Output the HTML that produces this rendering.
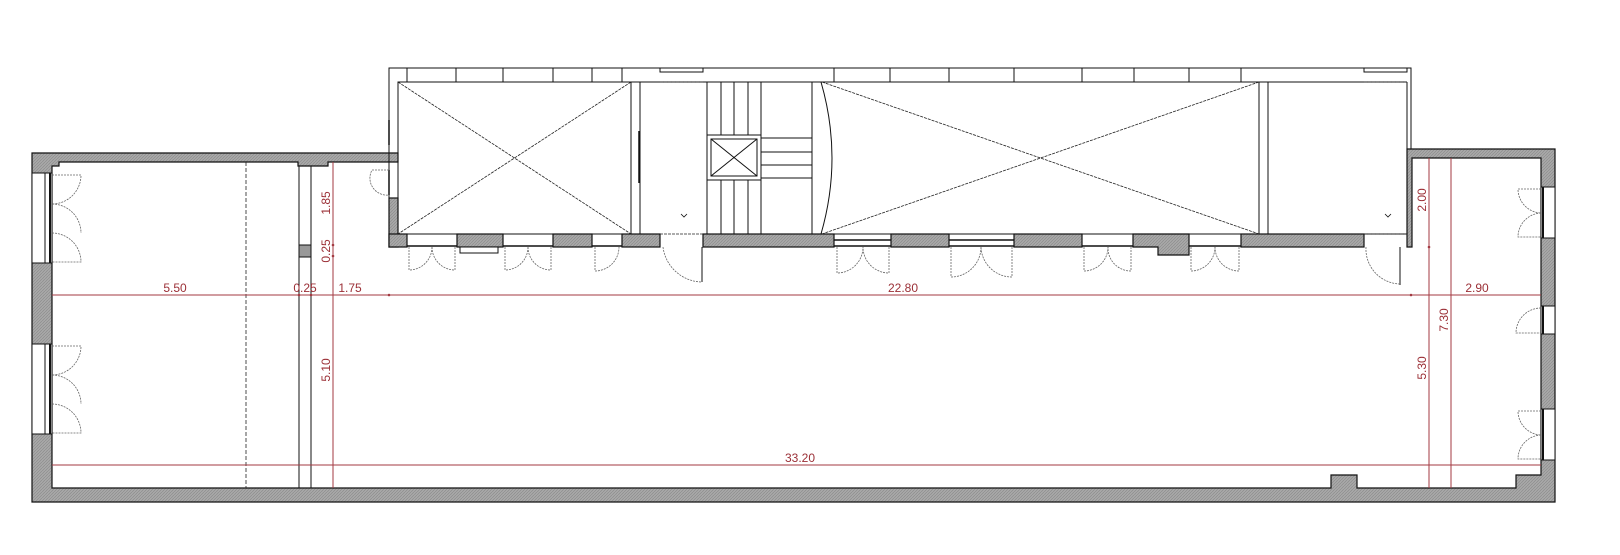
<!DOCTYPE html>
<html><head><meta charset="utf-8"><style>
html,body{margin:0;padding:0;background:#fff;}
svg{display:block;}
text{font-family:"Liberation Sans",sans-serif;font-size:12px;fill:#9b2f36;}
</style></head><body>
<svg width="1620" height="555" viewBox="0 0 1620 555" xmlns="http://www.w3.org/2000/svg">
<defs>
<pattern id="h" width="3" height="3" patternUnits="userSpaceOnUse">
<rect width="3" height="3" fill="#a8a8a8"/><path d="M0,3 L3,0" stroke="#888" stroke-width="0.6"/>
</pattern>
</defs>
<g fill="url(#h)" stroke="#111" stroke-width="1.2">
<path d="M32,153 H398 V162 H328 V166 H298 V162 H59 V166 H52 V488 H1331 V475 H1357 V488 H1516 V475 H1541 V158 H1412 V247 H1407 V149 H1555 V502 H32 Z"/>
<rect x="389" y="198" width="9" height="49"/>
<rect x="389" y="234" width="18" height="13"/>
<rect x="457" y="234" width="46" height="13"/>
<rect x="553" y="234" width="39" height="13"/>
<rect x="622" y="234" width="38" height="13"/>
<rect x="703" y="234" width="131" height="13"/>
<rect x="891" y="234" width="58" height="13"/>
<rect x="1014" y="234" width="68" height="13"/>
<path d="M1133,234 H1189 V255 H1158 V247 H1133 Z"/>
<rect x="1241" y="234" width="123" height="13"/>
</g>
<g fill="#fff" stroke="#111" stroke-width="1">
<rect x="32" y="173" width="20" height="90"/>
<rect x="32" y="344" width="20" height="90"/>
<rect x="1541" y="187" width="14" height="51"/>
<rect x="1541" y="306" width="14" height="28"/>
<rect x="1541" y="409" width="14" height="51"/>
</g>
<g stroke="#111" stroke-width="2">
<line x1="50" y1="173" x2="50" y2="263"/><line x1="50" y1="344" x2="50" y2="434"/>
<line x1="1543" y1="187" x2="1543" y2="238"/><line x1="1543" y1="306" x2="1543" y2="334"/><line x1="1543" y1="409" x2="1543" y2="460"/>
</g>
<g stroke="#111" stroke-width="1" fill="none">
<line x1="45" y1="173" x2="45" y2="263"/><line x1="45" y1="344" x2="45" y2="434"/>
<path d="M389,198 V68 H1411 V149"/>
<line x1="398" y1="82" x2="1407" y2="82"/>
<line x1="398" y1="82" x2="398" y2="198"/>
<line x1="1407" y1="82" x2="1407" y2="149"/>
<rect x="398" y="82" width="233" height="152"/>
<line x1="640" y1="82" x2="640" y2="234"/>
<line x1="707" y1="82" x2="707" y2="234"/>
<line x1="812" y1="82" x2="812" y2="234"/>
<line x1="721" y1="82" x2="721" y2="135"/><line x1="734" y1="82" x2="734" y2="135"/><line x1="748" y1="82" x2="748" y2="135"/>
<line x1="721" y1="180" x2="721" y2="234"/><line x1="734" y1="180" x2="734" y2="234"/><line x1="748" y1="180" x2="748" y2="234"/>
<line x1="761" y1="82" x2="761" y2="234"/>
<rect x="707" y="135" width="54" height="45"/>
<rect x="711" y="139" width="46" height="37"/>
<line x1="711" y1="139" x2="757" y2="176"/><line x1="757" y1="139" x2="711" y2="176"/>
<line x1="761" y1="138" x2="812" y2="138"/><line x1="761" y1="152" x2="812" y2="152"/><line x1="761" y1="165" x2="812" y2="165"/><line x1="761" y1="178" x2="812" y2="178"/>
<path d="M821,82 Q843,158 821,234"/>
<line x1="1259" y1="82" x2="1259" y2="234"/>
<line x1="1268" y1="82" x2="1268" y2="234"/>
<line x1="834" y1="234" x2="1407" y2="234"/>
<line x1="398" y1="234" x2="640" y2="234"/>
<rect x="407" y="68" width="49" height="14"/><rect x="503" y="68" width="50" height="14"/><rect x="592" y="68" width="30" height="14"/>
<rect x="660" y="68" width="43" height="4"/>
<rect x="834" y="68" width="56" height="14"/><rect x="949" y="68" width="65" height="14"/><rect x="1082" y="68" width="52" height="14"/><rect x="1189" y="68" width="52" height="14"/>
<rect x="1364" y="68" width="43" height="4"/>
<line x1="299" y1="166" x2="299" y2="488"/><line x1="311" y1="166" x2="311" y2="488"/>
<line x1="702" y1="247" x2="702" y2="282"/>
<line x1="1400" y1="247" x2="1400" y2="285"/>
</g>
<g stroke="#111" stroke-width="1.5">
<line x1="407" y1="246" x2="457" y2="246"/><line x1="503" y1="246" x2="553" y2="246"/><line x1="592" y1="246" x2="622" y2="246"/>
<line x1="834" y1="246" x2="891" y2="246"/><line x1="949" y1="246" x2="1014" y2="246"/><line x1="1082" y1="246" x2="1133" y2="246"/><line x1="1189" y1="246" x2="1241" y2="246"/>
<line x1="834" y1="240" x2="891" y2="240"/><line x1="949" y1="240" x2="1014" y2="240"/>
<line x1="389" y1="120" x2="389" y2="145"/><line x1="389" y1="170" x2="389" y2="195"/>
<line x1="639" y1="131" x2="639" y2="183"/>
</g>
<rect x="299" y="245" width="12" height="12" fill="#999" stroke="#111"/>
<rect x="460" y="247" width="38" height="6" fill="#fff" stroke="#111"/>
<g stroke="#222" stroke-width="0.8" stroke-dasharray="3,1" fill="none">
<line x1="398" y1="82" x2="631" y2="234"/><line x1="631" y1="82" x2="398" y2="234"/>
<line x1="822" y1="82" x2="1259" y2="234"/><line x1="1259" y1="82" x2="822" y2="234"/>
<line x1="246" y1="162" x2="246" y2="488" stroke-dasharray="4,2"/>
<line x1="660" y1="82" x2="703" y2="82"/><line x1="660" y1="234" x2="703" y2="234"/>
<line x1="1364" y1="82" x2="1407" y2="82"/><line x1="1364" y1="234" x2="1407" y2="234"/>
</g>
<g stroke="#666" stroke-width="0.8" stroke-dasharray="2,1" fill="none">
<path d="M52,175 H81 A29,29 0 0,1 52,204"/><path d="M52,204 A29,29 0 0,1 81,233"/><path d="M52,233 A29,29 0 0,1 81,262 H52"/>
<path d="M52,346 H81 A29,29 0 0,1 52,375"/><path d="M52,375 A29,29 0 0,1 81,404"/><path d="M52,404 A29,29 0 0,1 81,433 H52"/>
<path d="M1541,189 H1518 A24,24 0 0,0 1541,213"/><path d="M1541,213 A24,24 0 0,0 1518,237 H1541"/>
<path d="M1541,308 A25,25 0 0,0 1516,333 H1541"/>
<path d="M1541,411 H1518 A24,24 0 0,0 1541,435"/><path d="M1541,435 A24,24 0 0,0 1518,459 H1541"/>
<path d="M389,170 H372 A17,17 0 0,0 389,195"/>
<path d="M409,247 V270 A23,23 0 0,0 432,247"/><path d="M455,247 V270 A23,23 0 0,1 432,247"/>
<path d="M505,247 V270 A23,23 0 0,0 528,247"/><path d="M551,247 V270 A23,23 0 0,1 528,247"/>
<path d="M595,247 V271 A24,24 0 0,0 619,247"/>
<path d="M663,247 A40,40 0 0,0 702,282"/>
<path d="M837,247 V273 A26,26 0 0,0 863,247"/><path d="M889,247 V273 A26,26 0 0,1 863,247"/>
<path d="M951,247 V277 A30,30 0 0,0 981,247"/><path d="M1012,247 V277 A31,31 0 0,1 981,247"/>
<path d="M1084,247 V271 A24,24 0 0,0 1108,247"/><path d="M1131,247 V271 A23,23 0 0,1 1108,247"/>
<path d="M1191,247 V271 A24,24 0 0,0 1215,247"/><path d="M1239,247 V271 A24,24 0 0,1 1215,247"/>
<path d="M1366,247 A35,35 0 0,0 1400,284"/>
</g>
<path d="M681,214 l3,3 l3,-3 M1385,214 l3,3 l3,-3" stroke="#111" fill="none" stroke-width="0.8"/>
<g stroke="#a33a42" stroke-width="1">
<line x1="52" y1="295" x2="1541" y2="295"/>
<line x1="52" y1="465" x2="1541" y2="465"/>
<line x1="333" y1="162" x2="333" y2="488"/>
<line x1="1429" y1="158" x2="1429" y2="488"/>
<line x1="1451" y1="158" x2="1451" y2="488"/>
</g>
<g fill="#a33a42">
<circle cx="299" cy="295" r="1.3"/><circle cx="311" cy="295" r="1.3"/><circle cx="389" cy="295" r="1.3"/><circle cx="1411" cy="295" r="1.3"/>
<circle cx="333" cy="245" r="1.3"/><circle cx="333" cy="256" r="1.3"/><circle cx="1429" cy="247" r="1.3"/>
</g>
<text x="175" y="292" text-anchor="middle">5.50</text>
<text x="305" y="292" text-anchor="middle">0.25</text>
<text x="350" y="292" text-anchor="middle">1.75</text>
<text x="903" y="292" text-anchor="middle">22.80</text>
<text x="1477" y="292" text-anchor="middle">2.90</text>
<text x="800" y="462" text-anchor="middle">33.20</text>
<text transform="translate(330,203) rotate(-90)" text-anchor="middle">1.85</text>
<text transform="translate(330,251) rotate(-90)" text-anchor="middle">0.25</text>
<text transform="translate(330,370) rotate(-90)" text-anchor="middle">5.10</text>
<text transform="translate(1426,200) rotate(-90)" text-anchor="middle">2.00</text>
<text transform="translate(1426,368) rotate(-90)" text-anchor="middle">5.30</text>
<text transform="translate(1448,320) rotate(-90)" text-anchor="middle">7.30</text>
</svg>
</body></html>
